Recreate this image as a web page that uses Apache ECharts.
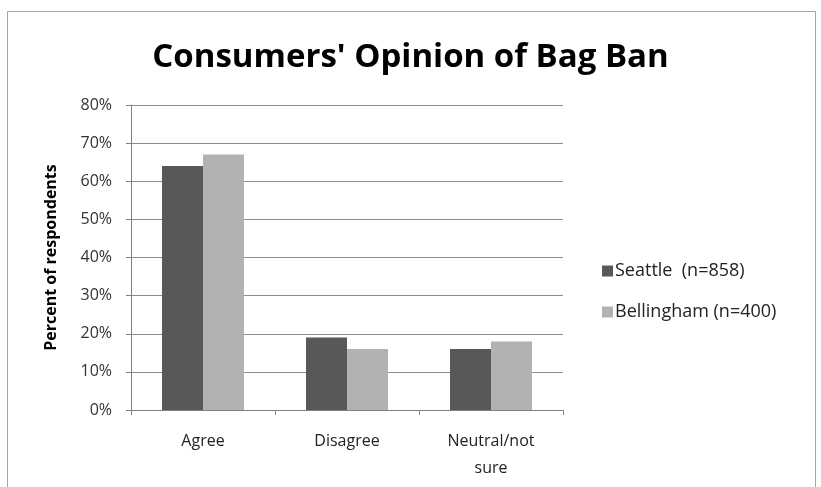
<!DOCTYPE html>
<html><head><meta charset="utf-8">
<script src="https://cdn.jsdelivr.net/npm/echarts@6/dist/echarts.min.js"></script>
<style>html,body{margin:0;padding:0;background:#fff}#c{width:821px;height:487px}</style>
</head><body><div id="c"></div>
<script>
const categories = ['Agree', 'Disagree', 'Neutral/not\nsure'];
const seattle = [64, 19, 16];
const bellingham = [67, 16, 18];
const yTicks = [0, 10, 20, 30, 40, 50, 60, 70, 80];
const seriesNames = ['Seattle  (n=858)', 'Bellingham (n=400)'];

const chart = echarts.init(document.getElementById('c'));
const font = '"Open Sans", "DejaVu Sans", sans-serif';
chart.setOption({
  animation: false,
  graphic: [{
    type: 'rect', shape: {x: 7.5, y: 11.5, width: 808, height: 490},
    style: {fill: 'none', stroke: '#a6a6a6', lineWidth: 1}, silent: true
  }],
  title: {
    text: "Consumers' Opinion of Bag Ban",
    left: 'center', top: 36,
    textStyle: {fontFamily: font, fontSize: 33, fontWeight: 'bold', color: '#000'}
  },
  legend: {
    orient: 'vertical', left: 597, top: 257, itemGap: 23,
    itemWidth: 11, itemHeight: 11, icon: 'rect',
    textStyle: {fontFamily: font, fontSize: 18, color: '#222', padding: [0, 0, 0, -3]},
    data: seriesNames
  },
  grid: {left: 131, top: 105, width: 432, height: 305, containLabel: false},
  xAxis: {
    type: 'category', data: categories,
    axisLine: {lineStyle: {color: '#808080'}},
    axisTick: {show: true, length: 5, lineStyle: {color: '#808080'}},
    axisLabel: {fontFamily: font, fontSize: 16, color: '#222', margin: 18, lineHeight: 27}
  },
  yAxis: {
    type: 'value', min: 0, max: 80, interval: 10,
    name: 'Percent of respondents', nameLocation: 'middle', nameGap: 72, nameRotate: 90,
    nameTextStyle: {fontFamily: font, fontSize: 16, fontWeight: 'bold', color: '#000'},
    axisLine: {show: true, lineStyle: {color: '#808080'}},
    axisTick: {show: true, length: 5, inside: false, lineStyle: {color: '#808080'}},
    axisLabel: {fontFamily: font, fontSize: 16, color: '#333', margin: 19,
      formatter: v => yTicks.includes(v) ? v + '%' : ''},
    splitLine: {lineStyle: {color: '#8c8c8c', width: 1}}
  },
  series: [
    {name: seriesNames[0], type: 'bar', data: seattle, barWidth: 41, barGap: '0%',
     itemStyle: {color: '#585858'}},
    {name: seriesNames[1], type: 'bar', data: bellingham, barWidth: 41, barGap: '0%',
     itemStyle: {color: '#b2b2b2'}}
  ]
});
</script></body></html>
